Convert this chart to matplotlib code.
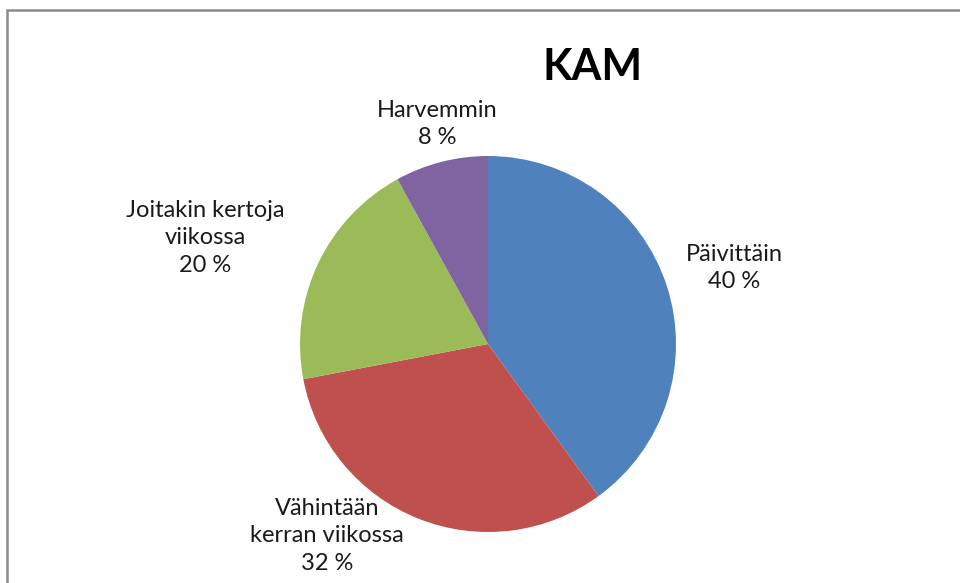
import matplotlib.pyplot as plt
from matplotlib.patches import Rectangle

# KAM - usage frequency
categories = ["Päivittäin", "Vähintään kerran viikossa", "Joitakin kertoja viikossa", "Harvemmin"]
shares = [40, 32, 20, 8]
label_texts = ["Päivittäin\n40 %", "Vähintään\nkerran viikossa\n32 %",
               "Joitakin kertoja\nviikossa\n20 %", "Harvemmin\n8 %"]
colors = ["#4F81BD", "#C0504D", "#9BBB59", "#8064A2"]

plt.rcParams["font.family"] = ["Lato", "DejaVu Sans"]

fig = plt.figure(figsize=(9.6, 5.83), dpi=100)
ax = fig.add_axes([0, 0, 1, 1])

# pie in pixel space (y measured from bottom)
cx, cy, r = 488, 583 - 344, 188
ax.pie(shares, colors=colors, startangle=90, counterclock=False,
       center=(cx, cy), radius=r, frame=True,
       wedgeprops=dict(linewidth=0))
ax.set_xlim(0, 960)
ax.set_ylim(0, 583)
ax.set_aspect("equal")
ax.axis("off")

# label positions (pixels, top-left origin)
label_pos = [(734, 268), (327, 536), (205, 238), (437, 124)]
for txt, (px, py) in zip(label_texts, label_pos):
    ax.text(px, 583 - py, txt, ha="center", va="center", fontsize=17,
            color="#1a1a1a", linespacing=1.4)

ax.text(593, 583 - 67, "KAM", ha="center", va="center", fontsize=31,
        fontweight="bold", color="black")

# chart border (continues past the right/bottom edge)
ax.add_patch(Rectangle((7, -20), 1000, 583 - 10 + 20, fill=False,
                       edgecolor="#8a8a8a", linewidth=1.8, clip_on=False))

fig.savefig("out.png", dpi=100)
